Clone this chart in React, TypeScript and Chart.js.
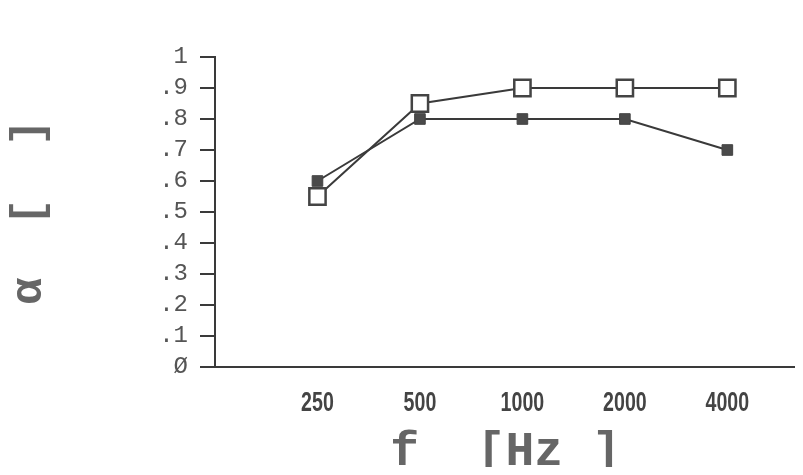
import React, { useEffect, useRef } from 'react';
import { Chart, registerables } from 'chart.js';

Chart.register(...registerables);

const categories = ['250', '500', '1000', '2000', '4000'];
const openSeries = [0.55, 0.85, 0.9, 0.9, 0.9];
const filledSeries = [0.6, 0.8, 0.8, 0.8, 0.7];
const yTickLabels = ['Ø', '.1', '.2', '.3', '.4', '.5', '.6', '.7', '.8', '.9', '1'];
const xTitle = 'f  [Hz ]';
const yTitle = 'α  [  ]';

const INK = '#3a3a3a';
const TEXT = '#555555';

// Draws the category labels in a condensed bold face at the x scale's own pixel positions.
const condensedXLabels = {
  id: 'condensedXLabels',
  afterDraw(chart: any) {
    const xs = chart.scales.x;
    const ctx = chart.ctx;
    ctx.save();
    ctx.fillStyle = '#444';
    ctx.font = 'bold 28px "Liberation Sans", Arial, sans-serif';
    ctx.textAlign = 'center';
    ctx.textBaseline = 'middle';
    categories.forEach((c, i) => {
      const px = xs.getPixelForValue(i + 1);
      const py = xs.top + 36;
      ctx.save();
      ctx.translate(px, py);
      ctx.scale(0.7, 1);
      ctx.fillText(c, 0, 0);
      ctx.restore();
    });
    ctx.restore();
  },
};

export default function App() {
  const ref = useRef<HTMLCanvasElement | null>(null);

  useEffect(() => {
    if (!ref.current) return;
    const toPts = (arr: number[]) => arr.map((v, i) => ({ x: i + 1, y: v }));
    const chart = new Chart(ref.current, {
      type: 'line',
      data: {
        datasets: [
          {
            label: 'open',
            data: toPts(openSeries),
            borderColor: INK,
            borderWidth: 2,
            pointStyle: 'rect',
            pointRadius: 11.5,
            pointBorderWidth: 2.5,
            pointBorderColor: '#444',
            pointBackgroundColor: '#ffffff',
            tension: 0,
          },
          {
            label: 'filled',
            data: toPts(filledSeries),
            borderColor: INK,
            borderWidth: 2,
            pointStyle: 'rect',
            pointRadius: 7.5,
            pointBorderWidth: 1,
            pointBorderColor: '#444',
            pointBackgroundColor: '#4a4a4a',
            tension: 0,
          },
        ],
      },
      plugins: [condensedXLabels],
      options: {
        animation: false,
        responsive: true,
        maintainAspectRatio: false,
        layout: { padding: { top: 49, right: 0, left: 0, bottom: 0 } },
        plugins: { legend: { display: false }, tooltip: { enabled: false } },
        scales: {
          x: {
            type: 'linear',
            min: 0,
            max: 5.67,
            grid: { display: false, drawTicks: false },
            border: { display: true, color: INK, width: 2 },
            afterBuildTicks: (scale: any) => {
              scale.ticks = categories.map((_, i) => ({ value: i + 1 }));
            },
            afterFit: (scale: any) => {
              scale.height = 100;
              scale.paddingLeft = 0;
              scale.paddingRight = 0;
            },
            ticks: {
              display: false,
            },
            title: {
              display: true,
              text: xTitle,
              color: '#666',
              padding: { top: 0, bottom: 0 },
              font: { family: '"Liberation Mono", monospace', size: 48, weight: 'bold', lineHeight: 0.6 },
            },
          },
          y: {
            min: 0,
            max: 1,
            grid: { drawOnChartArea: false, drawTicks: true, tickLength: 15, color: INK, lineWidth: 2 },
            border: { display: true, color: INK, width: 2 },
            afterFit: (scale: any) => {
              scale.width = 207;
            },
            ticks: {
              stepSize: 0.1,
              autoSkip: false,
              padding: 12,
              color: TEXT,
              font: { family: '"Liberation Mono", monospace', size: 24 },
              callback: (v: any) => yTickLabels[Math.round(Number(v) * 10)] ?? '',
            },
            title: {
              display: true,
              text: yTitle,
              color: '#666',
              padding: { top: 9, bottom: 0 },
              font: { family: '"Liberation Mono", monospace', size: 44, weight: 'bold', lineHeight: 0.6 },
            },
          },
        },
      },
    });
    return () => chart.destroy();
  }, []);

  return (
    <div style={{ width: 787, height: 459, overflow: 'hidden' }}>
      <div style={{ width: 802, height: 459, position: 'relative' }}>
        <canvas ref={ref} style={{ display: 'block' }} />
      </div>
    </div>
  );
}
